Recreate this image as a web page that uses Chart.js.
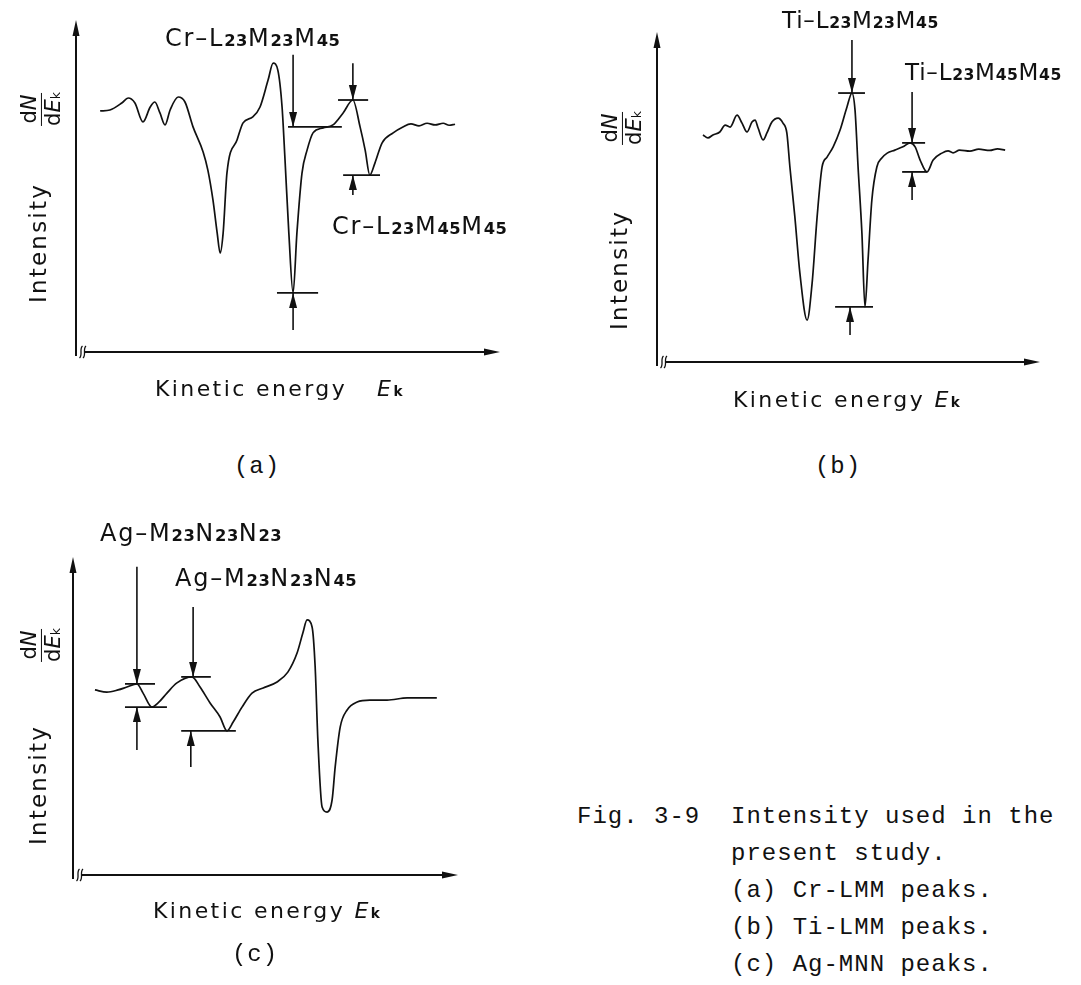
<!DOCTYPE html>
<html>
<head>
<meta charset="utf-8">
<script src="https://cdn.jsdelivr.net/npm/chart.js@4.4.1/dist/chart.umd.min.js"></script>
<style>
  body { margin: 0; background: #fff; }
  #page { position: relative; width: 1081px; height: 985px; overflow: hidden; font-family: "DejaVu Sans", sans-serif; color: #111; }
  canvas { position: absolute; }
  .t { position: absolute; white-space: nowrap; transform: translateY(-50%); line-height: 1; }
  .lab { font-size: 24px; letter-spacing: 1.8px; }
  .lab small { font-size: 0.68em; letter-spacing: 0.5px; font-weight: bold; }
  .ti { font-size: 23px; letter-spacing: 0.8px; }
  .ke { font-size: 22px; letter-spacing: 2.4px; }
  .ke i small { font-style: normal; font-weight: bold; font-size: 0.62em; }
  .rot { position: absolute; transform: translate(-50%, -50%) rotate(-90deg); white-space: nowrap; line-height: 1; }
  .inten { font-size: 23px; letter-spacing: 2.2px; }
  .frac { display: inline-flex; flex-direction: column; align-items: center; font-size: 21px; line-height: 1.05; }
  .frac .num { border-bottom: 1.8px solid #111; padding: 0 2px 1px; }
  .frac small { font-size: 0.6em; }
  .mono { font-family: "Liberation Mono", monospace; font-size: 24px; letter-spacing: 1px; white-space: pre; position: absolute; line-height: 37px; }
  .pl { transform: translate(-50%, -50%); line-height: 1; }
</style>
</head>
<body>
<div id="page">
  <canvas id="chartA" width="540" height="440" style="left:0;top:0"></canvas>
  <canvas id="chartB" width="541" height="440" style="left:540px;top:0"></canvas>
  <canvas id="chartC" width="540" height="440" style="left:0;top:500px"></canvas>

  <!-- panel (a) text -->
  <div class="t lab" style="left:165px;top:38px">Cr–L<small>23</small>M<small>23</small>M<small>45</small></div>
  <div class="t lab" style="left:332px;top:226px">Cr–L<small>23</small>M<small>45</small>M<small>45</small></div>
  <div class="rot" style="left:41px;top:109px"><div class="frac"><span class="num">d<i>N</i></span><span>d<i>E</i><small>k</small></span></div></div>
  <div class="rot inten" style="left:38px;top:243px">Intensity</div>
  <div class="t ke" style="left:155px;top:389px">Kinetic energy<span style="margin-left:30px"><i>E<small>k</small></i></span></div>
  <div class="t mono pl" style="left:257px;top:467px">(a)</div>

  <!-- panel (b) text -->
  <div class="t lab ti" style="left:782px;top:20px">Ti–L<small>23</small>M<small>23</small>M<small>45</small></div>
  <div class="t lab ti" style="left:905px;top:72px">Ti–L<small>23</small>M<small>45</small>M<small>45</small></div>
  <div class="rot" style="left:622px;top:128px"><div class="frac"><span class="num">d<i>N</i></span><span>d<i>E</i><small>k</small></span></div></div>
  <div class="rot inten" style="left:619px;top:270px">Intensity</div>
  <div class="t ke" style="left:733px;top:400px">Kinetic energy <i>E<small>k</small></i></div>
  <div class="t mono pl" style="left:838px;top:467px">(b)</div>

  <!-- panel (c) text -->
  <div class="t lab" style="left:100px;top:533px">Ag–M<small>23</small>N<small>23</small>N<small>23</small></div>
  <div class="t lab" style="left:175px;top:578px">Ag–M<small>23</small>N<small>23</small>N<small>45</small></div>
  <div class="rot" style="left:41px;top:645px"><div class="frac"><span class="num">d<i>N</i></span><span>d<i>E</i><small>k</small></span></div></div>
  <div class="rot inten" style="left:38px;top:785px">Intensity</div>
  <div class="t ke" style="left:153px;top:911px">Kinetic energy <i>E<small>k</small></i></div>
  <div class="t mono pl" style="left:255px;top:955px">(c)</div>

  <!-- caption -->
  <div class="mono" style="left:577px;top:798px">Fig. 3-9  Intensity used in the
          present study.
          (a) Cr-LMM peaks.
          (b) Ti-LMM peaks.
          (c) Ag-MNN peaks.</div>
</div>

<script>
// (a) Cr-LMM spectrum, arbitrary units (0-100 on both axes)
const crEnergy = [5.7, 8.0, 10.8, 12.3, 13.9, 15.8, 17.5, 18.6, 19.8, 21.0, 22.2, 24.1, 25.7, 27.6, 30.0, 31.1, 32.3, 33.3, 34.0, 34.7, 35.6, 38.0, 39.4, 41.7, 43.4, 45.3, 46.5, 47.6, 48.6, 49.3, 50.2, 51.2, 52.1, 53.3, 54.5, 55.9, 58.3, 60.6, 63.0, 65.3, 67.0, 68.2, 69.3, 70.5, 72.2, 74.8, 77.1, 79.0, 80.9, 82.8, 84.7, 86.6, 88.0, 89.4];
const crSignal = [72.6, 72.9, 75.0, 76.5, 75.0, 69.3, 73.8, 75.3, 72.0, 68.4, 72.9, 76.8, 75.3, 67.8, 60.2, 54.8, 45.8, 35.8, 29.8, 35.8, 53.9, 63.9, 69.0, 70.8, 73.8, 81.9, 87.0, 84.9, 73.8, 57.8, 35.8, 17.8, 35.8, 53.9, 60.8, 66.0, 67.5, 68.4, 72.0, 75.9, 67.8, 60.8, 53.3, 56.9, 63.0, 66.0, 67.8, 68.7, 68.1, 68.9, 68.4, 68.9, 68.3, 68.6];
// peak-to-peak markers: arrow x, level y, arrow start y, level line ends
const crMarkX = [51.2, 51.2, 65.3, 65.3];
const crMarkY = [67.8, 17.8, 75.9, 53.3];
const crMarkFrom = [89.5, 6.6, 87.0, 47.3];
const crMarkX1 = [50.0, 47.4, 61.8, 63.0];
const crMarkX2 = [62.7, 57.1, 68.9, 71.7];

// (b) Ti-LMM spectrum
const tiEnergy = [12.0, 13.3, 14.6, 16.4, 17.8, 19.1, 20.9, 22.2, 23.5, 24.8, 25.6, 26.4, 27.7, 28.7, 30.0, 31.6, 32.9, 33.9, 34.7, 36.0, 37.3, 39.2, 40.5, 41.8, 43.1, 44.4, 46.0, 47.8, 49.6, 50.9, 51.7, 52.5, 53.5, 54.3, 55.1, 56.1, 57.4, 58.7, 60.1, 62.1, 64.2, 66.1, 67.4, 68.7, 70.5, 72.1, 74.4, 76.0, 77.3, 79.0, 81.7, 84.0, 86.9, 88.9, 90.9];
const tiSignal = [68.8, 67.9, 68.8, 69.7, 71.8, 71.2, 74.8, 72.4, 69.7, 72.7, 73.3, 70.9, 67.3, 69.4, 72.7, 73.9, 72.4, 69.4, 59.1, 43.9, 27.0, 12.7, 23.9, 43.9, 59.1, 62.1, 65.2, 70.3, 77.3, 81.5, 76.4, 59.1, 39.1, 16.7, 30.9, 49.1, 59.1, 61.8, 63.3, 64.2, 65.2, 66.4, 65.2, 61.2, 57.6, 61.2, 63.3, 64.0, 63.4, 64.2, 63.9, 64.5, 64.1, 64.6, 64.2];
const tiMarkX = [50.9, 50.4, 66.6, 66.6];
const tiMarkY = [81.5, 16.7, 66.4, 57.6];
const tiMarkFrom = [97.6, 8.2, 81.8, 49.1];
const tiMarkX1 = [47.3, 46.5, 64.0, 64.0];
const tiMarkX2 = [54.3, 56.4, 70.0, 70.5];

// (c) Ag-MNN spectrum
const agEnergy = [5.7, 8.8, 11.7, 14.0, 16.6, 18.2, 20.5, 22.1, 24.4, 27.0, 30.9, 33.0, 35.6, 38.2, 40.0, 41.6, 43.9, 46.5, 49.4, 53.0, 55.8, 58.2, 59.7, 60.8, 62.1, 62.9, 63.6, 64.7, 66.0, 67.3, 68.1, 69.4, 71.2, 73.8, 77.1, 81.6, 86.8, 94.5];
const agSignal = [58.2, 57.5, 58.2, 59.1, 60.1, 57.2, 52.8, 54.1, 57.2, 60.4, 62.3, 59.1, 54.1, 49.7, 45.3, 48.1, 52.8, 57.2, 58.8, 60.7, 63.8, 69.8, 76.1, 80.2, 78.0, 65.4, 42.5, 21.4, 19.8, 23.6, 34.0, 46.5, 51.9, 54.4, 55.0, 55.0, 55.7, 55.7];
const agMarkX = [16.6, 16.6, 31.2, 30.6];
const agMarkY = [60.1, 52.8, 62.3, 45.3];
const agMarkFrom = [96.9, 39.3, 84.3, 34.0];
const agMarkX1 = [13.5, 13.5, 28.1, 28.1];
const agMarkX2 = [21.3, 24.4, 35.8, 42.3];

// axes with arrowheads and the "broken axis" squiggle
const axesPlugin = {
  id: "axes",
  beforeDatasetsDraw(chart) {
    const { ctx, chartArea } = chart;
    const { left, right, top, bottom } = chartArea;
    ctx.save();
    ctx.strokeStyle = "#111";
    ctx.fillStyle = "#111";
    ctx.lineWidth = 2;
    ctx.beginPath();
    ctx.moveTo(left, bottom + 4);
    ctx.lineTo(left, top + 10);
    ctx.moveTo(left + 9, bottom);
    ctx.lineTo(right - 10, bottom);
    ctx.stroke();
    ctx.beginPath();
    ctx.moveTo(left, top);
    ctx.lineTo(left - 3.5, top + 16);
    ctx.lineTo(left + 3.5, top + 16);
    ctx.closePath();
    ctx.moveTo(right, bottom);
    ctx.lineTo(right - 16, bottom - 3.5);
    ctx.lineTo(right - 16, bottom + 3.5);
    ctx.closePath();
    ctx.fill();
    ctx.lineWidth = 1.3;
    [5, 8.5].forEach(dx => {
      const x = left + dx;
      ctx.beginPath();
      ctx.moveTo(x + 1.5, bottom - 6);
      ctx.bezierCurveTo(x - 2, bottom - 3, x + 2, bottom + 3, x - 1.5, bottom + 6);
      ctx.stroke();
    });
    ctx.restore();
  }
};

// arrowheads on marker arrows
const arrowPlugin = {
  id: "arrows",
  afterDatasetsDraw(chart) {
    const { ctx } = chart;
    ctx.save();
    ctx.fillStyle = "#111";
    chart.data.datasets.forEach((ds, i) => {
      if (!ds.arrow) return;
      const pts = chart.getDatasetMeta(i).data;
      const tip = pts[1], tail = pts[0];
      const dir = Math.sign(tip.y - tail.y);
      ctx.beginPath();
      ctx.moveTo(tip.x, tip.y);
      ctx.lineTo(tip.x - 4, tip.y - dir * 15);
      ctx.lineTo(tip.x + 4, tip.y - dir * 15);
      ctx.closePath();
      ctx.fill();
    });
    ctx.restore();
  }
};

function makePanel(id, pad, xs, ys, mx, my, mfrom, mx1, mx2) {
  const datasets = [{
    data: xs.map((x, i) => ({ x: x, y: ys[i] })),
    borderColor: "#111",
    borderWidth: 1.7,
    pointRadius: 0,
    cubicInterpolationMode: "monotone",
  }];
  mx.forEach((x, i) => {
    datasets.push({
      data: [{ x: mx1[i], y: my[i] }, { x: mx2[i], y: my[i] }],
      borderColor: "#111",
      borderWidth: 1.8,
      pointRadius: 0,
    });
    datasets.push({
      data: [{ x: x, y: mfrom[i] }, { x: x, y: my[i] }],
      borderColor: "#111",
      borderWidth: 1.6,
      pointRadius: 0,
      arrow: true,
    });
  });
  return new Chart(document.getElementById(id), {
    type: "line",
    data: { datasets: datasets },
    options: {
      responsive: false,
      animation: false,
      clip: false,
      layout: { padding: pad },
      scales: {
        x: { type: "linear", display: false, min: 0, max: 100 },
        y: { type: "linear", display: false, min: 0, max: 100 }
      },
      plugins: {
        legend: { display: false },
        tooltip: { enabled: false }
      }
    },
    plugins: [axesPlugin, arrowPlugin]
  });
}

makePanel("chartA", { left: 76, top: 20, right: 40, bottom: 88 }, crEnergy, crSignal, crMarkX, crMarkY, crMarkFrom, crMarkX1, crMarkX2);
makePanel("chartB", { left: 117, top: 32, right: 41, bottom: 78 }, tiEnergy, tiSignal, tiMarkX, tiMarkY, tiMarkFrom, tiMarkX1, tiMarkX2);
makePanel("chartC", { left: 73, top: 57, right: 82, bottom: 65 }, agEnergy, agSignal, agMarkX, agMarkY, agMarkFrom, agMarkX1, agMarkX2);
</script>
</body>
</html>
